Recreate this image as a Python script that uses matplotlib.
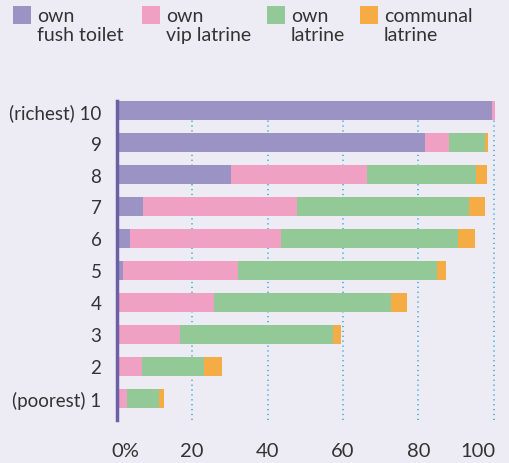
import matplotlib
matplotlib.use("Agg")
import matplotlib.pyplot as plt
from matplotlib.patches import Rectangle
import matplotlib.transforms as mtransforms
import numpy as np

plt.rcParams['font.family'] = ['Lato', 'DejaVu Sans']

deciles = ["(poorest) 1", "2", "3", "4", "5", "6", "7", "8", "9", "(richest) 10"]
series_names = ["own\nfush toilet", "own\nvip latrine", "own\nlatrine", "communal\nlatrine"]
flush_toilet = [0, 0, 0, 0, 1.6, 3.5, 7.1, 30.3, 81.7, 99.6]
vip_latrine = [2.8, 6.8, 16.9, 25.9, 30.7, 40.2, 40.6, 36.2, 6.5, 0.7]
own_latrine = [8.4, 16.3, 40.6, 46.8, 52.6, 46.8, 45.8, 28.9, 9.6, 0]
communal_latrine = [1.4, 4.8, 2.0, 4.4, 2.4, 4.6, 4.2, 2.7, 0.8, 0]
x_ticks = [0, 20, 40, 60, 80, 100]
x_tick_labels = ["0%", "20", "40", "60", "80", "100"]

colors = ["#9B93C4", "#F0A0C2", "#93C897", "#F5AC45"]
bg = "#EDEBF4"
text_color = "#333333"

W, H = 509, 464
fig = plt.figure(figsize=(W / 100, H / 100), dpi=100, facecolor=bg)
left_px, right_px = 116.7, 116.7 + 101 * 3.77
top_px, bottom_px = 102, 420.7
ax = fig.add_axes([left_px / W, 1 - bottom_px / H, (right_px - left_px) / W, (bottom_px - top_px) / H])
ax.set_facecolor(bg)

y = np.arange(1, len(deciles) + 1)
left = np.zeros(len(deciles))
for vals, c in zip([flush_toilet, vip_latrine, own_latrine, communal_latrine], colors):
    v = np.array(vals)
    ax.barh(y, v, left=left, height=0.585, color=c, zorder=3, linewidth=0)
    left += v

ax.set_xlim(0, 101)
ax.set_ylim(0.33, 10.3)
for xt in x_ticks[1:]:
    ax.axvline(xt, color="#29A9E0", linestyle=(0, (0.8, 2.4)), linewidth=1.1, zorder=1)

for s in ["top", "right", "bottom"]:
    ax.spines[s].set_visible(False)
ax.spines["left"].set_color("#6B5FA5")
ax.spines["left"].set_linewidth(2.5)
ax.spines["left"].set_zorder(4)

ax.set_yticks(y)
ax.set_yticklabels(deciles, fontsize=13.5, color=text_color)
ax.tick_params(axis="y", length=0, pad=11)
ax.set_xticks(x_ticks)
ax.set_xticklabels(x_tick_labels, fontsize=14.5, color=text_color)
ax.tick_params(axis="x", length=0, pad=16)
labs = ax.get_xticklabels()
labs[0].set_ha("left")
labs[0].set_transform(labs[0].get_transform() + mtransforms.ScaledTranslation(-5 / 100, 0, fig.dpi_scale_trans))
labs[-1].set_ha("right")
labs[-1].set_transform(labs[-1].get_transform() + mtransforms.ScaledTranslation(2 / 100, 0, fig.dpi_scale_trans))

# legend
leg_x = [13, 142, 267, 360]
for xpx, name, c in zip(leg_x, series_names, colors):
    fig.patches.append(Rectangle((xpx / W, 1 - 25 / H), 18 / W, 18 / H, transform=fig.transFigure,
                                 facecolor=c, edgecolor="none"))
    fig.text((xpx + 24) / W, 1 - 8 / H, name, ha="left", va="top", fontsize=14,
             color=text_color, linespacing=1.12)

fig.savefig("out.png", dpi=100, facecolor=bg)
